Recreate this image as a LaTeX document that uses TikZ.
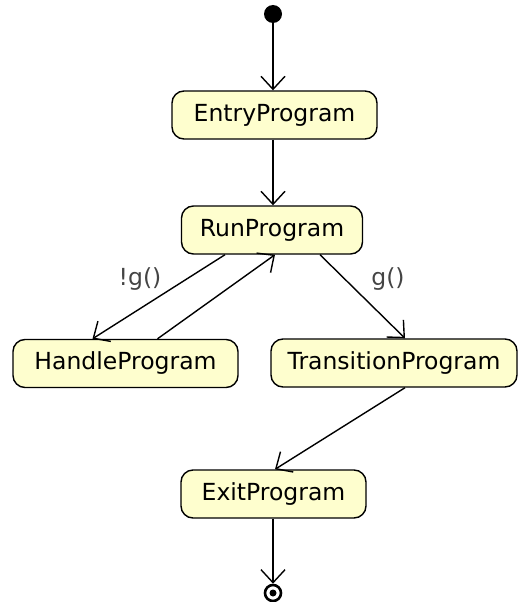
\documentclass[tikz,border=0pt]{standalone}
\usepackage{fontspec}
\setmainfont{DejaVu Sans}
\usetikzlibrary{arrows.meta}
\definecolor{stfill}{HTML}{FEFECE}
\definecolor{lblgray}{HTML}{444444}
\tikzset{
  state/.style={draw=black, line width=1.4pt, fill=stfill, rounded corners=12pt,
    minimum height=48pt, inner sep=0pt, font=\fontsize{23.5}{27}\selectfont},
  flow/.style={line width=1.4pt, -{Straight Barb[length=13pt,width=24pt,line width=1.4pt]}},
  lbl/.style={text=lblgray, font=\fontsize{23.5}{27}\selectfont, inner sep=0pt}
}
\begin{document}
\begin{tikzpicture}[x=1pt,y=-1pt]
\useasboundingbox (0,0) rectangle (530,602);
\node[circle, fill=black, minimum size=18pt, inner sep=0pt] (start) at (273,14) {};
\node[state, minimum width=205pt] (entry) at (274.5,115) {EntryProgram};
\node[state, minimum width=181pt] (run) at (272,230) {RunProgram};
\node[state, minimum width=225pt] (handle) at (125.5,363.5) {HandleProgram};
\node[state, minimum width=246pt] (trans) at (394,363) {TransitionProgram};
\node[state, minimum width=185pt] (exit) at (273.5,494) {ExitProgram};
\node[circle, draw=black, line width=2.6pt, fill=white, minimum size=16pt, inner sep=0pt] (end) at (273,593) {};
\node[circle, fill=black, minimum size=7pt, inner sep=0pt] (endin) at (end.center) {};
\node[lbl] (lnot) at (140,279) {!g()};
\node[lbl] (lg) at (388,279) {g()};
\draw[flow] (start) -- (entry.north -| start);
\draw[flow] (entry.south -| start) -- (run.north -| start);
\draw[flow] ([xshift=-47pt]run.south) -- ([xshift=-33pt]handle.north);
\draw[flow] ([xshift=32pt]handle.north) -- ([xshift=3pt]run.south);
\draw[flow] ([xshift=48pt]run.south) -- ([xshift=11pt]trans.north);
\draw[flow] ([xshift=11pt]trans.south) -- ([xshift=1.5pt]exit.north);
\draw[flow] (exit.south -| end) -- (end.north);
\end{tikzpicture}
\end{document}
